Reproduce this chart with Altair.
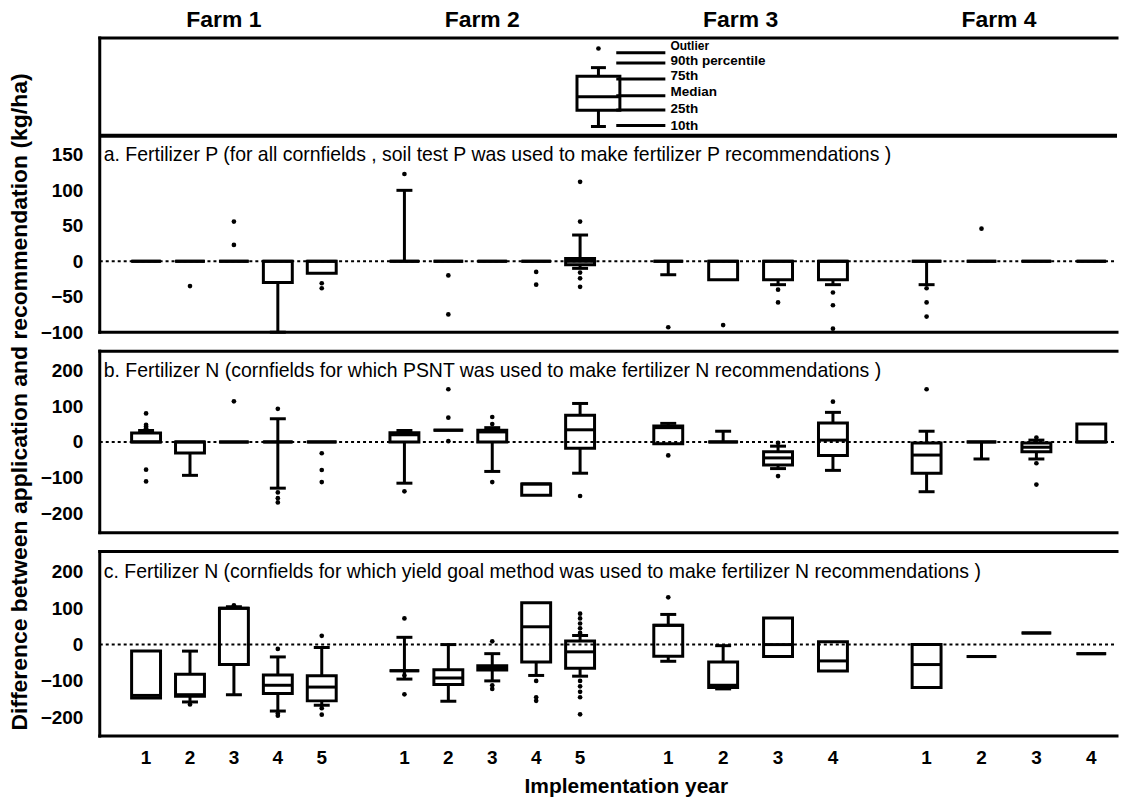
import altair as alt
import pandas as pd

FONT = "Liberation Sans"

# ---------------- categories / texts ----------------
farms = [1, 2, 3, 4]
farm_names = ["Farm 1", "Farm 2", "Farm 3", "Farm 4"]
years_per_farm = [5, 5, 4, 4]
box_farm = [1, 1, 1, 1, 1, 2, 2, 2, 2, 2, 3, 3, 3, 3, 4, 4, 4, 4]
box_year = [1, 2, 3, 4, 5, 1, 2, 3, 4, 5, 1, 2, 3, 4, 1, 2, 3, 4]

panel_titles = [
    "a. Fertilizer P (for all cornfields , soil test P was used to make fertilizer P recommendations )",
    "b. Fertilizer N (cornfields for which PSNT was used to make fertilizer N recommendations )",
    "c. Fertilizer N (cornfields for which yield goal method was used to make fertilizer N recommendations )",
]
y_title = "Difference between application and recommendation (kg/ha)"
x_title = "Implementation year"
a_ticks = [150, 100, 50, 0, -50, -100]
bc_ticks = [200, 100, 0, -100, -200]

# ---------------- panel a : fertilizer P ----------------
a_p10 = [0, 0, 0, -100, -17, 0, 0, 0, 0, -10, -19, -26, -33, -33, -33, 0, 0, 0]
a_q1 = [0, 0, 0, -30, -17, 0, 0, 0, 0, -5, 0, -26, -26, -26, 0, 0, 0, 0]
a_med = [0, 0, 0, 0, 0, 0, 0, 0, 0, 0, 0, 0, 0, 0, 0, 0, 0, 0]
a_q3 = [0, 0, 0, 0, 0, 0, 0, 0, 0, 4, 0, 0, 0, 0, 0, 0, 0, 0]
a_p90 = [0, 0, 0, 0, 0, 100, 0, 0, 0, 37, 0, 0, 0, 0, 0, 0, 0, 0]
a_outliers = [(1, 2, -35), (1, 3, 56), (1, 3, 23), (1, 5, -31), (1, 5, -38),
              (2, 1, 123), (2, 2, -20), (2, 2, -75), (2, 4, -15), (2, 4, -33),
              (2, 5, 112), (2, 5, 56), (2, 5, -16), (2, 5, -24), (2, 5, -36),
              (3, 1, -93), (3, 2, -90), (3, 3, -40), (3, 3, -58),
              (3, 4, -44), (3, 4, -62), (3, 4, -95),
              (4, 1, -38), (4, 1, -58), (4, 1, -78), (4, 2, 46)]

# ---------------- panel b : N, PSNT ----------------
b_p10 = [0, -94, 0, -130, 0, -116, 33, -83, -150, -88, -5, 0, -75, -80, -140, -48, -48, 0]
b_q1 = [0, -31, 0, 0, 0, 0, 33, 0, -150, -18, -5, 0, -65, -38, -88, 0, -28, 0]
b_med = [0, 0, 0, 0, 0, 20, 33, 28, -118, 34, 40, 0, -45, 5, -37, 0, -15, 0]
b_q3 = [25, 0, 0, 0, 0, 26, 33, 33, -118, 75, 45, 0, -28, 53, -3, 0, -3, 50]
b_p90 = [32, 0, 0, 65, 0, 32, 33, 40, -118, 108, 52, 30, -12, 83, 30, 0, 5, 50]
b_outliers = [(1, 1, 38), (1, 1, 43), (1, 1, 48), (1, 1, 80), (1, 1, -78), (1, 1, -111),
              (1, 3, 114),
              (1, 4, 93), (1, 4, -142), (1, 4, -158), (1, 4, -170),
              (1, 5, -32), (1, 5, -79), (1, 5, -113),
              (2, 1, -139),
              (2, 2, 148), (2, 2, 68), (2, 2, 2),
              (2, 3, 70), (2, 3, 50), (2, 3, -113),
              (2, 5, -152),
              (3, 1, -38),
              (3, 3, -3), (3, 3, -96),
              (3, 4, 113),
              (4, 1, 148),
              (4, 3, 12), (4, 3, -60), (4, 3, -120)]

# ---------------- panel c : N, yield goal ----------------
c_p10 = [-147, -158, -138, -183, -167, -95, -156, -100, -85, -87, -46, -122, -33, -73, -118, -33, 32, -25]
c_q1 = [-147, -142, -55, -135, -155, -72, -110, -70, -48, -65, -32, -118, -33, -73, -118, -33, 32, -25]
c_med = [-140, -138, 100, -112, -117, -72, -92, -64, 49, -20, 53, -112, 0, -45, -55, -33, 32, -25]
c_q3 = [-18, -82, 100, -84, -86, -72, -69, -58, 115, 10, 53, -48, 73, 8, 0, -33, 32, -25]
c_p90 = [-18, -18, 104, -34, -8, 20, 0, -25, 115, 25, 83, -3, 73, 8, 0, -33, 32, -25]
c_outliers = [(1, 2, -165), (1, 3, 108), (1, 4, -12), (1, 4, -190), (1, 4, -196),
              (1, 5, 24), (1, 5, -175), (1, 5, -193),
              (2, 1, 72), (2, 1, -85), (2, 1, -137),
              (2, 3, 9), (2, 3, -112), (2, 3, -122),
              (2, 4, -100), (2, 4, -145), (2, 4, -155),
              (2, 5, 85), (2, 5, 72), (2, 5, 58), (2, 5, 45), (2, 5, 32),
              (2, 5, -100), (2, 5, -115), (2, 5, -130), (2, 5, -145), (2, 5, -192),
              (3, 1, 130)]

# ---------------- legend key (drawn in panel-a units) ----------------
legend_labels = ["Outlier", "90th percentile", "75th", "Median", "25th", "10th"]
legend_line_y = [294, 279.6, 257, 233.5, 213.4, 191.3]
legend_text_y = [303.5, 282.8, 261.7, 238.7, 214.8, 190.9]
legend_label_size = [12, 13.5, 13.5, 13.5, 13.5, 13.5]
legend_stats = dict(p10=190, q1=213, med=232, q3=261, p90=273)
legend_outlier = 300
LEGEND_X = 1.911
LEGEND_LINE_X = (1.98, 2.17)
LEGEND_TEXT_X = 2.19

# ---------------- layout ----------------
W = 1020
H1, H2, H3 = 295, 182, 185
XMAX = 3.899
xs = alt.Scale(domain=[0, XMAX], nice=False, zero=False)

farm_df = pd.DataFrame({"farm": farms, "farm_name": farm_names, "nyears": years_per_farm})
XPOS = "datum.farm - 0.5 + (datum.year - (datum.nyears + 1) / 2) * 0.85 / datum.nyears"
one = pd.DataFrame({"k": [0]})
zero_df = pd.DataFrame({"v": [0]})


def X(f):
    return alt.X(f, type="quantitative", scale=xs, axis=None)


def make_Y(domain, ticks):
    sc = alt.Scale(domain=domain, nice=False, zero=False)
    ax = alt.Axis(values=ticks, domain=False, ticks=False, grid=False, title=None,
                  labelFont=FONT, labelFontSize=19, labelFontWeight="bold",
                  labelColor="black", labelPadding=17)

    def Y(f):
        return alt.Y(f, type="quantitative", scale=sc, axis=ax)
    return Y


def make_boxes(p10, q1, med, q3, p90):
    df = pd.DataFrame(dict(farm=box_farm, year=box_year, p10=p10, q1=q1, med=med, q3=q3, p90=p90))
    return df.merge(farm_df, on="farm")


def make_out(items):
    df = pd.DataFrame(items, columns=["farm", "year", "v"])
    return df.merge(farm_df, on="farm")


def box_layers(df, out_df, Y, box_w=29, cap_w=16, calc=True):
    base = alt.Chart(df)
    obase = alt.Chart(out_df)
    if calc:
        base = base.transform_calculate(xpos=XPOS)
        obase = obase.transform_calculate(xpos=XPOS)
    x = X("xpos")
    return [
        base.mark_rule(color="black", strokeWidth=3).encode(x=x, y=Y("p10"), y2=alt.Y2("q1")),
        base.mark_rule(color="black", strokeWidth=3).encode(x=x, y=Y("q3"), y2=alt.Y2("p90")),
        base.transform_filter("datum.p10 < datum.q1").mark_tick(
            orient="horizontal", size=cap_w, thickness=3, color="black", opacity=1
        ).encode(x=x, y=Y("p10")),
        base.transform_filter("datum.p90 > datum.q3").mark_tick(
            orient="horizontal", size=cap_w, thickness=3, color="black", opacity=1
        ).encode(x=x, y=Y("p90")),
        base.mark_bar(size=box_w, fill="white", stroke="black", strokeWidth=3, opacity=1).encode(
            x=x, y=Y("q1"), y2=alt.Y2("q3")),
        base.mark_tick(orient="horizontal", size=box_w + 1, thickness=3, color="black", opacity=1).encode(
            x=x, y=Y("med")),
        obase.mark_point(filled=True, size=22, color="black", opacity=1, shape="circle").encode(
            x=x, y=Y("v")),
    ]


def frame(H, sep=None):
    c = alt.Chart(one)
    st = dict(color="black", strokeWidth=3, strokeCap="square")
    L = [
        c.mark_rule(**st).encode(x=alt.value(0), x2=alt.value(W), y=alt.value(0)),
        c.mark_rule(**st).encode(x=alt.value(0), x2=alt.value(W), y=alt.value(H)),
        c.mark_rule(**st).encode(x=alt.value(0), y=alt.value(0), y2=alt.value(H)),
    ]
    if sep is not None:
        L.append(c.mark_rule(color="black", strokeWidth=4).encode(
            x=alt.value(0), x2=alt.value(W), y=alt.value(sep)))
    return L


def zero_line(Y):
    return alt.Chart(zero_df).mark_rule(color="black", strokeWidth=2, strokeDash=[3, 3]).encode(
        x=alt.value(0), x2=alt.value(W), y=Y("v"))


def subtitle(text, ypx):
    return alt.Chart(one).mark_text(align="left", baseline="middle", font=FONT, fontSize=19.5,
                                    color="black").encode(
        x=alt.value(4), y=alt.value(ypx), text=alt.value(text))


# ---------------- row 1 : legend key + panel a ----------------
Ya = make_Y([-100, 314.8], a_ticks)
a_layers = box_layers(make_boxes(a_p10, a_q1, a_med, a_q3, a_p90), make_out(a_outliers), Ya)

leg_box_df = pd.DataFrame([dict(xpos=LEGEND_X, **legend_stats)])
leg_out_df = pd.DataFrame({"xpos": [LEGEND_X], "v": [legend_outlier]})
leg_layers = box_layers(leg_box_df, leg_out_df, Ya, box_w=43, cap_w=15, calc=False)
leg_lab_df = pd.DataFrame({"label": legend_labels, "ly": legend_line_y, "ty": legend_text_y,
                           "fs": legend_label_size,
                           "x0": LEGEND_LINE_X[0], "x1": LEGEND_LINE_X[1], "xt": LEGEND_TEXT_X})
leg_lines = alt.Chart(leg_lab_df).mark_rule(color="black", strokeWidth=3).encode(
    x=X("x0"), x2=alt.X2("x1"), y=Ya("ly"))
leg_text = alt.Chart(leg_lab_df).mark_text(align="left", baseline="middle", font=FONT,
                                           fontWeight="bold", color="black").encode(
    x=X("xt"), y=Ya("ty"), text="label:N", size=alt.Size("fs:Q", scale=None, legend=None))

farm_text = alt.Chart(farm_df).transform_calculate(xc="datum.farm - 0.5").mark_text(
    font=FONT, fontSize=23, fontWeight="bold", color="black", baseline="middle", dx=-10
).encode(x=X("xc"), y=alt.value(-18), text="farm_name:N")

row1 = alt.layer(
    *leg_layers, leg_lines, leg_text,
    *a_layers, zero_line(Ya), subtitle(panel_titles[0], 117), farm_text,
    *frame(H1, sep=98),
).properties(width=W, height=H1)

# ---------------- row 2 : panel b ----------------
Yb = make_Y([-255, 255], bc_ticks)
b_layers = box_layers(make_boxes(b_p10, b_q1, b_med, b_q3, b_p90), make_out(b_outliers), Yb)
ytitle = alt.Chart(one).mark_text(font=FONT, fontSize=23, fontWeight="bold", color="black",
                                  angle=270, align="center", baseline="middle").encode(
    x=alt.value(-80), y=alt.value(51), text=alt.value(y_title))
row2 = alt.layer(*b_layers, zero_line(Yb), subtitle(panel_titles[1], 20), ytitle,
                 *frame(H2)).properties(width=W, height=H2)

# ---------------- row 3 : panel c ----------------
Yc = make_Y([-252, 256], bc_ticks)
c_layers = box_layers(make_boxes(c_p10, c_q1, c_med, c_q3, c_p90), make_out(c_outliers), Yc)
year_df = pd.DataFrame({"farm": box_farm, "year": box_year}).merge(farm_df, on="farm")
year_text = alt.Chart(year_df).transform_calculate(xpos=XPOS).mark_text(
    font=FONT, fontSize=19, fontWeight="bold", color="black", baseline="middle"
).encode(x=X("xpos"), y=alt.value(H3 + 22), text="year:N")
xtitle = alt.Chart(one).mark_text(font=FONT, fontSize=21, fontWeight="bold", color="black",
                                  baseline="middle").encode(
    x=alt.value(528), y=alt.value(H3 + 51), text=alt.value(x_title))
row3 = alt.layer(*c_layers, zero_line(Yc), subtitle(panel_titles[2], 20), year_text, xtitle,
                 *frame(H3)).properties(width=W, height=H3)

chart = alt.vconcat(row1, row2, row3, spacing=19, bounds="flush", padding=0,
                    background="white").configure_view(stroke=None)

chart.save("out.html", embed_options={"renderer": "svg", "actions": False})
